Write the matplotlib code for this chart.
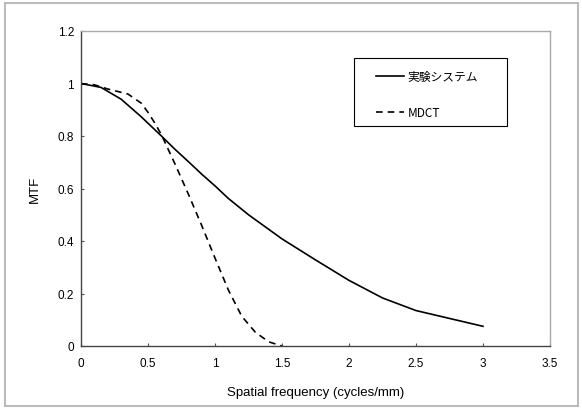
import matplotlib
matplotlib.use("Agg")
import matplotlib.pyplot as plt
from matplotlib.patches import Rectangle

plt.rcParams['font.family'] = ['Liberation Sans', 'Noto Sans CJK JP', 'DejaVu Sans']
plt.rcParams['font.size'] = 8.5

# 実験システム (solid)
exp_x = [0, 0.15, 0.3, 0.45, 0.6, 0.7, 0.8, 0.9, 1.0, 1.1, 1.25, 1.5, 1.75, 2.0, 2.25, 2.5, 2.75, 3.0]
exp_y = [1.0, 0.985, 0.94, 0.873, 0.80, 0.75, 0.703, 0.655, 0.61, 0.562, 0.50, 0.408, 0.328, 0.25, 0.183, 0.135, 0.105, 0.075]

# MDCT (dashed)
mdct_x = [0, 0.1, 0.2, 0.35, 0.45, 0.5, 0.55, 0.6, 0.65, 0.7, 0.8, 0.9, 1.0, 1.1, 1.2, 1.3, 1.4, 1.5]
mdct_y = [1.0, 0.995, 0.979, 0.96, 0.925, 0.89, 0.85, 0.805, 0.75, 0.695, 0.58, 0.46, 0.335, 0.213, 0.113, 0.053, 0.016, 0.0]

xticks = [0, 0.5, 1, 1.5, 2, 2.5, 3, 3.5]
yticks = [0, 0.2, 0.4, 0.6, 0.8, 1, 1.2]

fig = plt.figure(figsize=(5.82, 4.10), dpi=100)
ax = fig.add_axes([81/582, 1 - 347/410, (550 - 81)/582, (347 - 32)/410])

ax.plot(exp_x, exp_y, color='black', lw=1.2, label='実験システム')
ax.plot(mdct_x, mdct_y, color='black', lw=1.2, linestyle=(0, (4, 3)), label='MDCT')

ax.set_xlim(0, 3.5)
ax.set_ylim(0, 1.2)
ax.set_xticks(xticks)
ax.set_yticks(yticks)
ax.set_xticklabels(['0', '0.5', '1', '1.5', '2', '2.5', '3', '3.5'])
ax.set_yticklabels(['0', '0.2', '0.4', '0.6', '0.8', '1', '1.2'])
ax.tick_params(direction='in', length=2.5, width=0.8, color='#555555', pad=5)
ax.tick_params(axis='x', pad=8)

for s in ['left', 'bottom']:
    ax.spines[s].set_color('#444444')
    ax.spines[s].set_linewidth(1.0)
for s in ['top', 'right']:
    ax.spines[s].set_color('#aaaaaa')
    ax.spines[s].set_linewidth(1.0)

ax.set_xlabel('Spatial frequency (cycles/mm)', fontsize=9.5, labelpad=12)
ax.set_ylabel('MTF', fontsize=9.5, labelpad=12)

# legend content without frame, frame drawn separately
leg = ax.legend(loc='upper left', bbox_to_anchor=(376/582, 1 - 71/410),
                bbox_transform=fig.transFigure, frameon=False,
                handlelength=2.4, handletextpad=0.25,
                labelspacing=1.95, borderpad=0, borderaxespad=0,
                prop={'family': ['Noto Sans CJK JP', 'DejaVu Sans'], 'size': 8.5})
fig.patches.append(Rectangle((354/582, 1 - 127/410), 153/582, 68/410, transform=fig.transFigure,
                             fill=False, edgecolor='black', lw=0.8, zorder=5))

fig.patches.append(Rectangle((5/582, 3/410), 573/582, 403/410, transform=fig.transFigure,
                             fill=False, edgecolor='#bbbbbb', lw=1.5))

fig.savefig('out.png', dpi=100)
